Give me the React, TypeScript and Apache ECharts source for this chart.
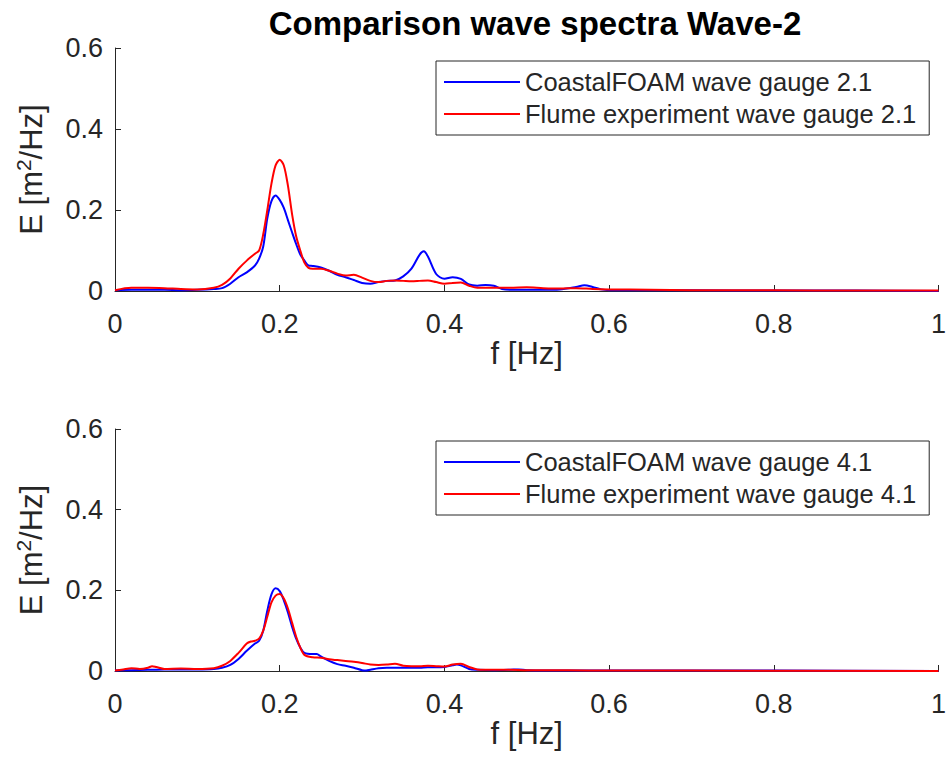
import React, { useEffect, useRef } from "react";
import * as echarts from "echarts";

const titleText = "Comparison wave spectra Wave-2";
const xTicks = [0, 0.2, 0.4, 0.6, 0.8, 1];
const yTicks = [0, 0.2, 0.4, 0.6];

const topBlueName = "CoastalFOAM wave gauge 2.1";
const topRedName = "Flume experiment wave gauge 2.1";
const botBlueName = "CoastalFOAM wave gauge 4.1";
const botRedName = "Flume experiment wave gauge 4.1";

const topBlueF = [0, 0.02, 0.04, 0.06, 0.08, 0.1, 0.12, 0.13, 0.14, 0.15, 0.16, 0.17, 0.175, 0.18, 0.185, 0.19, 0.195, 0.2, 0.205, 0.21, 0.215, 0.22, 0.225, 0.23, 0.235, 0.24, 0.25, 0.26, 0.27, 0.28, 0.29, 0.3, 0.31, 0.32, 0.33, 0.34, 0.35, 0.36, 0.37, 0.375, 0.38, 0.39, 0.4, 0.41, 0.42, 0.43, 0.44, 0.45, 0.46, 0.47, 0.48, 0.5, 0.52, 0.54, 0.56, 0.57, 0.58, 0.59, 0.6, 0.65, 0.7, 0.8, 0.9, 1.0];
const topBlueE = [0.002, 0.003, 0.003, 0.003, 0.002, 0.003, 0.005, 0.007, 0.018, 0.034, 0.046, 0.063, 0.08, 0.11, 0.18, 0.222, 0.236, 0.225, 0.205, 0.175, 0.145, 0.116, 0.09, 0.075, 0.063, 0.062, 0.058, 0.05, 0.04, 0.034, 0.027, 0.02, 0.018, 0.022, 0.025, 0.026, 0.036, 0.055, 0.09, 0.098, 0.085, 0.042, 0.03, 0.034, 0.03, 0.016, 0.013, 0.015, 0.013, 0.005, 0.003, 0.003, 0.003, 0.004, 0.01, 0.014, 0.01, 0.004, 0.002, 0.002, 0.002, 0.001, 0.001, 0.0];

const topRedF = [0, 0.02, 0.04, 0.06, 0.08, 0.1, 0.12, 0.13, 0.14, 0.15, 0.16, 0.17, 0.175, 0.18, 0.185, 0.19, 0.195, 0.2, 0.205, 0.21, 0.215, 0.22, 0.225, 0.23, 0.235, 0.24, 0.25, 0.26, 0.27, 0.28, 0.29, 0.3, 0.31, 0.32, 0.33, 0.34, 0.35, 0.36, 0.37, 0.38, 0.39, 0.4, 0.41, 0.42, 0.43, 0.44, 0.46, 0.48, 0.5, 0.52, 0.54, 0.56, 0.58, 0.6, 0.65, 0.7, 0.8, 0.9, 1.0];
const topRedE = [0.002, 0.008, 0.008, 0.007, 0.005, 0.004, 0.008, 0.015, 0.031, 0.055, 0.075, 0.092, 0.1, 0.14, 0.2, 0.265, 0.31, 0.324, 0.31, 0.26, 0.19, 0.135, 0.1, 0.07, 0.057, 0.055, 0.055, 0.05, 0.043, 0.038, 0.04, 0.033, 0.025, 0.022, 0.025, 0.026, 0.025, 0.024, 0.025, 0.026, 0.022, 0.018, 0.02, 0.021, 0.013, 0.008, 0.008, 0.008, 0.009, 0.007, 0.006, 0.007, 0.005, 0.004, 0.003, 0.002, 0.002, 0.001, 0.001];

const botBlueF = [0, 0.02, 0.04, 0.06, 0.08, 0.1, 0.12, 0.13, 0.14, 0.15, 0.16, 0.17, 0.175, 0.18, 0.185, 0.19, 0.195, 0.2, 0.205, 0.21, 0.215, 0.22, 0.225, 0.23, 0.24, 0.245, 0.25, 0.26, 0.27, 0.28, 0.29, 0.3, 0.305, 0.31, 0.32, 0.33, 0.34, 0.35, 0.36, 0.37, 0.38, 0.39, 0.4, 0.41, 0.415, 0.42, 0.43, 0.44, 0.46, 0.48, 0.49, 0.5, 0.55, 0.6, 0.7, 0.8, 1.0];
const botBlueE = [0.001, 0.002, 0.003, 0.004, 0.004, 0.004, 0.005, 0.008, 0.015, 0.03, 0.05, 0.068, 0.075, 0.1, 0.15, 0.19, 0.205, 0.198, 0.175, 0.145, 0.11, 0.08, 0.058, 0.045, 0.042, 0.042, 0.036, 0.025, 0.017, 0.013, 0.008, 0.002, 0.001, 0.003, 0.007, 0.008, 0.008, 0.008, 0.008, 0.008, 0.009, 0.009, 0.01, 0.014, 0.016, 0.014, 0.005, 0.003, 0.002, 0.003, 0.004, 0.002, 0.001, 0.001, 0.001, 0.001, 0.0];

const botRedF = [0, 0.01, 0.02, 0.03, 0.04, 0.045, 0.05, 0.06, 0.08, 0.1, 0.12, 0.13, 0.14, 0.15, 0.16, 0.165, 0.17, 0.175, 0.18, 0.185, 0.19, 0.195, 0.2, 0.205, 0.21, 0.215, 0.22, 0.225, 0.23, 0.24, 0.25, 0.26, 0.27, 0.28, 0.29, 0.3, 0.31, 0.32, 0.33, 0.34, 0.35, 0.36, 0.37, 0.38, 0.39, 0.4, 0.41, 0.42, 0.43, 0.44, 0.46, 0.48, 0.5, 0.55, 0.6, 0.7, 1.0];
const botRedE = [0.001, 0.004, 0.007, 0.005, 0.008, 0.012, 0.01, 0.005, 0.006, 0.005, 0.007, 0.013, 0.025, 0.045, 0.068, 0.073, 0.075, 0.08, 0.1, 0.135, 0.17, 0.187, 0.191, 0.18, 0.155, 0.12, 0.085, 0.058, 0.04, 0.034, 0.033, 0.029, 0.027, 0.025, 0.023, 0.02, 0.016, 0.015, 0.016, 0.018, 0.013, 0.012, 0.012, 0.013, 0.012, 0.011, 0.016, 0.018, 0.01, 0.004, 0.003, 0.003, 0.002, 0.002, 0.001, 0.001, 0.0];

const zip = (f: number[], e: number[]) => f.map((v, i) => [v, e[i]]);

const FONT = "Liberation Sans, Arial, Helvetica, sans-serif";
const TXT = "#262626";
const TICK_FS = 27;
const NAME_FS = 31;

export default function App() {
  const ref = useRef<HTMLDivElement>(null);
  useEffect(() => {
    if (!ref.current) return;
    const chart = echarts.init(ref.current, undefined, { renderer: "svg" });
    const xAxisBase = (gridIndex: number) => ({
      type: "value" as const,
      gridIndex,
      min: xTicks[0],
      max: xTicks[xTicks.length - 1],
      interval: 0.2,
      name: "f [Hz]",
      nameLocation: "middle" as const,
      nameGap: 37,
      nameTextStyle: { color: TXT, fontSize: NAME_FS, fontFamily: FONT },
      axisLine: { show: true, lineStyle: { color: TXT, width: 1 } },
      axisTick: { show: true, inside: true, length: 6, lineStyle: { color: TXT } },
      axisLabel: { color: TXT, fontSize: TICK_FS, fontFamily: FONT, margin: 19 },
      splitLine: { show: false },
    });
    const yAxisBase = (gridIndex: number) => ({
      type: "value" as const,
      gridIndex,
      min: yTicks[0],
      max: yTicks[yTicks.length - 1],
      interval: 0.2,
      name: "{a|E [m}{b|2}{a|/Hz]}",
      nameLocation: "middle" as const,
      nameGap: 66,
      nameRotate: 90,
      nameTextStyle: {
        color: TXT,
        fontFamily: FONT,
        rich: {
          a: { fontSize: NAME_FS, color: TXT, fontFamily: FONT, lineHeight: 36 },
          b: { fontSize: 21, color: TXT, fontFamily: FONT, verticalAlign: "top", lineHeight: 21 },
        },
      },
      axisLine: { show: true, lineStyle: { color: TXT, width: 1 } },
      axisTick: { show: true, inside: true, length: 6, lineStyle: { color: TXT } },
      axisLabel: { color: TXT, fontSize: TICK_FS, fontFamily: FONT, margin: 12 },
      splitLine: { show: false },
    });
    const legendBase = (top: number, data: string[]) => ({
      orient: "vertical" as const,
      left: 436,
      top,
      data,
      icon: "rect",
      itemWidth: 76,
      itemHeight: 2,
      itemGap: 6,
      padding: [8, 13, 8, 8],
      borderColor: TXT,
      borderWidth: 1,
      backgroundColor: "#fff",
      textStyle: { color: TXT, fontSize: 25.5, fontFamily: FONT },
      selectedMode: false,
    });
    const lineSeries = (name: string, idx: number, data: number[][], color: string) => ({
      type: "line" as const,
      name,
      xAxisIndex: idx,
      yAxisIndex: idx,
      data,
      smooth: 0.3,
      symbol: "none",
      lineStyle: { color, width: 2 },
      itemStyle: { color },
      z: color === "#ff0000" ? 3 : 2,
    });
    chart.setOption({
      animation: false,
      backgroundColor: "#fff",
      title: {
        text: titleText,
        left: 530,
        textAlign: "center",
        top: 2,
        textStyle: { color: "#000", fontSize: 33, fontWeight: "bold", fontFamily: FONT },
      },
      grid: [
        { left: 115, right: 5, top: 48, height: 243 },
        { left: 115, right: 5, top: 429, height: 242 },
      ],
      xAxis: [xAxisBase(0), xAxisBase(1)],
      yAxis: [yAxisBase(0), yAxisBase(1)],
      legend: [legendBase(61, [topBlueName, topRedName]), legendBase(441, [botBlueName, botRedName])],
      series: [
        lineSeries(topBlueName, 0, zip(topBlueF, topBlueE), "#0000ff"),
        lineSeries(topRedName, 0, zip(topRedF, topRedE), "#ff0000"),
        lineSeries(botBlueName, 1, zip(botBlueF, botBlueE), "#0000ff"),
        lineSeries(botRedName, 1, zip(botRedF, botRedE), "#ff0000"),
      ],
    });
    return () => chart.dispose();
  }, []);
  return (
    <div
      ref={ref}
      style={{ position: "fixed", left: 0, top: 0, width: 949, height: 772, background: "#fff" }}
    />
  );
}
